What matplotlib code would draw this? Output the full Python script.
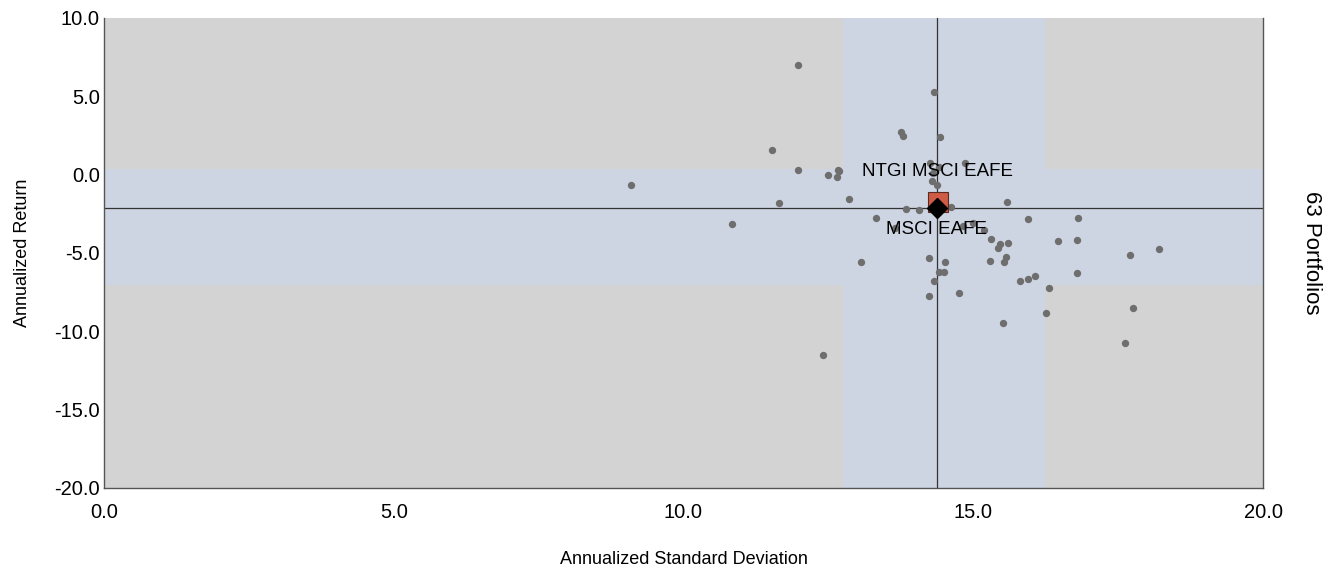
import matplotlib
matplotlib.use("Agg")
import matplotlib.pyplot as plt

plt.rcParams['font.family'] = ['Liberation Sans', 'DejaVu Sans']

# Peer portfolios (annualized std dev, annualized return)
peer_std = [11.97, 14.33, 13.76, 13.79, 14.43, 11.52, 11.98, 12.66, 12.69, 12.50,
            12.64, 9.10, 14.26, 14.86, 14.28, 14.37, 12.86, 11.65, 13.84, 14.07,
            14.61, 13.32, 10.84, 15.58, 15.94, 16.80, 14.83, 14.99, 15.19, 15.30,
            15.46, 15.43, 15.60, 16.47, 16.79, 14.23, 14.52, 13.06, 15.29, 15.53,
            15.56, 14.40, 14.50, 14.32, 15.80, 15.95, 16.07, 16.79, 16.30, 14.75,
            14.24, 16.25, 15.52, 12.41, 17.70, 18.20, 17.75, 17.61, 14.41, 14.31,
            13.65, 14.45, 14.34]
peer_ret = [7.02, 5.26, 2.74, 2.47, 2.41, 1.58, 0.32, 0.32, 0.26, -0.02,
            -0.15, -0.68, 0.73, 0.77, -0.38, -0.68, -1.53, -1.79, -2.17, -2.27,
            -2.08, -2.74, -3.13, -1.74, -2.81, -2.76, -3.25, -3.06, -3.53, -4.08,
            -4.44, -4.70, -4.38, -4.23, -4.17, -5.32, -5.57, -5.57, -5.49, -5.57,
            -5.27, -6.19, -6.21, -6.76, -6.80, -6.64, -6.49, -6.30, -7.25, -7.53,
            -7.72, -8.81, -9.46, -11.49, -5.12, -4.72, -8.51, -10.76, 0.47, 0.09,
            -3.42, -1.90, -1.75]

# Fund and benchmark
fund_name = 'NTGI MSCI EAFE'
fund_std, fund_ret = 14.39, -1.77
bench_name = 'MSCI EAFE'
bench_std, bench_ret = 14.37, -2.13

# Shaded bands (peer range)
band_std = (12.75, 16.24)
band_ret = (-7.04, 0.36)

x_ticks = [0, 5, 10, 15, 20]
y_ticks = [-20, -15, -10, -5, 0, 5, 10]

fig = plt.figure(figsize=(13.36, 5.69), dpi=100)
ax = fig.add_axes([0.0778, 0.1424, 0.8676, 0.826])
ax.set_facecolor('#D3D3D3')

ax.axvspan(band_std[0], band_std[1], color='#CDD5E2', zorder=0, lw=0)
ax.axhspan(band_ret[0], band_ret[1], color='#CDD5E2', zorder=0, lw=0)

ax.axvline(bench_std, color='#333333', lw=0.9, zorder=1)
ax.axhline(bench_ret, color='#333333', lw=0.9, zorder=1)

ax.scatter(peer_std, peer_ret, s=28, color='#6E6E6E', zorder=2, lw=0)

ax.plot(fund_std, fund_ret, marker='s', ms=14, color='#CD5B45',
        markeredgecolor='#5A2A20', mew=0.8, zorder=3)
ax.plot(bench_std, bench_ret, marker='D', ms=10, color='black', zorder=4)

ax.text(fund_std, 0.17, fund_name, ha='center', va='center', fontsize=13.5, zorder=5)
ax.text(bench_std, -3.47, bench_name, ha='center', va='center', fontsize=13.5, zorder=5)

ax.set_xlim(0, 20)
ax.set_ylim(-20, 10)
ax.set_xticks(x_ticks)
ax.set_yticks(y_ticks)
ax.set_xticklabels([f'{v:.1f}' for v in x_ticks], fontsize=14.5)
ax.set_yticklabels([f'{v:.1f}' for v in y_ticks], fontsize=14.5)
ax.tick_params(axis='y', length=0, pad=3)
ax.tick_params(axis='x', length=0, pad=11)

for s in ax.spines.values():
    s.set_color('#555555')
    s.set_linewidth(1)
ax.spines['top'].set_visible(False)

ax.set_xlabel('Annualized Standard Deviation', fontsize=13, labelpad=21)
ax.set_ylabel('Annualized Return', fontsize=13, labelpad=17)

fig.text(0.982, 0.555, '63 Portfolios', rotation=270, ha='center', va='center', fontsize=16)

fig.savefig('out.png', dpi=100)
